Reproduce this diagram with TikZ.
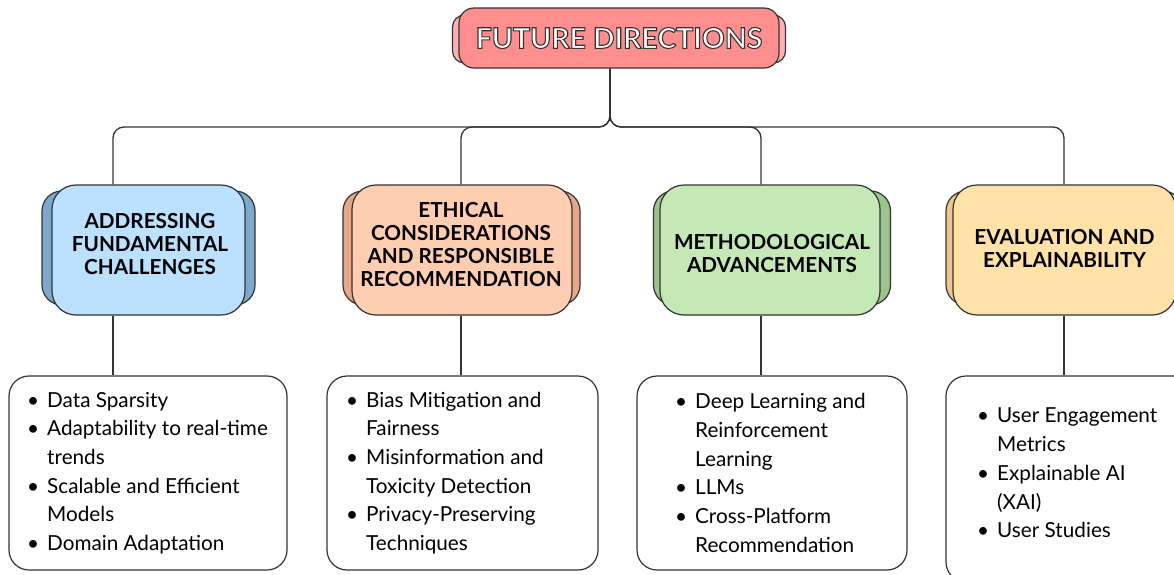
\documentclass[tikz,border=0pt]{standalone}
\usepackage{fontspec}
\setmainfont{Lato}
\definecolor{edge}{HTML}{333333}
\definecolor{titlefill}{HTML}{FF8F8F}
\definecolor{titleback}{HTML}{FFB0B0}
\definecolor{bluefill}{HTML}{BBE1FF}
\definecolor{blueback}{HTML}{7EA9CF}
\definecolor{peachfill}{HTML}{FFCDB2}
\definecolor{peachback}{HTML}{E8A888}
\definecolor{greenfill}{HTML}{C5E8B7}
\definecolor{greenback}{HTML}{9CC48E}
\definecolor{yellowfill}{HTML}{FFE2A8}
\definecolor{yellowback}{HTML}{E8C88C}
\tikzstyle{link}=[draw=edge, line width=1.3pt, rounded corners=11pt]
\tikzstyle{topbox}=[rectangle, rounded corners=15pt, draw=edge, line width=1.2pt, fill=titlefill, minimum width=320pt, minimum height=60pt, font=\fontsize{28.5}{30}\selectfont\bfseries]
\tikzstyle{topback}=[rectangle, rounded corners=12pt, draw=edge, line width=1.2pt, fill=titleback, minimum width=333pt, minimum height=48pt]
\tikzstyle{catbox}=[rectangle, rounded corners=24pt, draw=edge, line width=1.2pt, minimum height=130pt]
\tikzstyle{catback}=[rectangle, rounded corners=20pt, draw=edge, line width=1.2pt, minimum height=114pt]
\tikzstyle{cattext}=[align=center, inner sep=0pt, font=\fontsize{20.7}{23}\selectfont\bfseries]
\tikzstyle{listbox}=[rectangle, rounded corners=20pt, draw=edge, line width=1.2pt, fill=white, minimum height=194pt]
\tikzstyle{items}=[align=left, anchor=west, inner sep=0pt, font=\fontsize{20.7}{28.7}\selectfont]
\newcommand{\bul}{\makebox[20pt][l]{•}}
\newcommand{\ind}{\hspace*{20pt}}
\newcommand{\outlined}[1]{{\color{white}\special{pdf:literal direct 2 Tr 1.1 w 0.2 0.2 0.2 RG}#1\special{pdf:literal direct 0 Tr}}}

\begin{document}
\begin{tikzpicture}[x=1pt,y=-1pt]
    \path[use as bounding box] (0,0) rectangle (1174,574);
    \clip (0,0) rectangle (1174,574);
% title
    \node[topback] (topb) at (619,39) {};
    \node[topbox]  (top)  at (619,38) {\outlined{FUTURE DIRECTIONS}};
% categories
    \node[catback, fill=blueback, minimum width=213pt]   (cat1b) at (148.5,248) {};
    \node[catbox, fill=bluefill, minimum width=193pt]    (cat1)  at (148.5,250) {};
    \node[catback, fill=peachback, minimum width=237pt]  (cat2b) at (461.5,248) {};
    \node[catbox, fill=peachfill, minimum width=220pt]   (cat2)  at (462,250)   {};
    \node[catback, fill=greenback, minimum width=237pt]  (cat3b) at (772,248)   {};
    \node[catbox, fill=greenfill, minimum width=220pt]   (cat3)  at (770,250)   {};
    \node[catback, fill=yellowback, minimum width=237pt] (cat4b) at (1064.5,248) {};
    \node[catbox, fill=yellowfill, minimum width=223pt]  (cat4)  at (1064.5,250) {};
    \node[cattext] (cat1t) at (150,244)    {ADDRESSING\\FUNDAMENTAL\\CHALLENGES};
    \node[cattext] (cat2t) at (461,244.5)  {ETHICAL\\CONSIDERATIONS\\AND RESPONSIBLE\\RECOMMENDATION};
    \node[cattext] (cat3t) at (772,253.5)  {METHODOLOGICAL\\ADVANCEMENTS};
    \node[cattext] (cat4t) at (1064.5,248.5) {EVALUATION AND\\EXPLAINABILITY};
% lists
    \node[listbox, minimum width=278pt] (list1) at (148,473)   {};
    \node[listbox, minimum width=271pt] (list2) at (462.5,473) {};
    \node[listbox, minimum width=270pt] (list3) at (772,473)   {};
    \node[listbox, minimum width=270pt, minimum height=206pt] (list4) at (1081,479) {};
    \node[items] (items1) at (27,473)  {\bul Data Sparsity\\ \bul Adaptability to real-time\\ \ind trends\\ \bul Scalable and Efficient\\ \ind Models\\ \bul Domain Adaptation};
    \node[items] (items2) at (346,473) {\bul Bias Mitigation and\\ \ind Fairness\\ \bul Misinformation and\\ \ind Toxicity Detection\\ \bul Privacy-Preserving\\ \ind Techniques};
    \node[items] (items3) at (675,473) {\bul Deep Learning and\\ \ind Reinforcement\\ \ind Learning\\ \bul LLMs\\ \bul Cross-Platform\\ \ind Recommendation};
    \node[items] (items4) at (977,473) {\bul User Engagement\\ \ind Metrics\\ \bul Explainable AI\\ \ind (XAI)\\ \bul User Studies};
% connectors
    \coordinate (hub) at (610,127);
    \foreach \n/\x in {1/113,2/461,3/761,4/1064}{
        \coordinate (j\n) at (\x,127);
        \draw[link] (top.south -| hub) -- (hub) -- (j\n) -- (j\n |- cat\n.north);
        \draw[link] (j\n |- cat\n.south) -- (j\n |- list\n.north);
    }
\end{tikzpicture}
\end{document}
